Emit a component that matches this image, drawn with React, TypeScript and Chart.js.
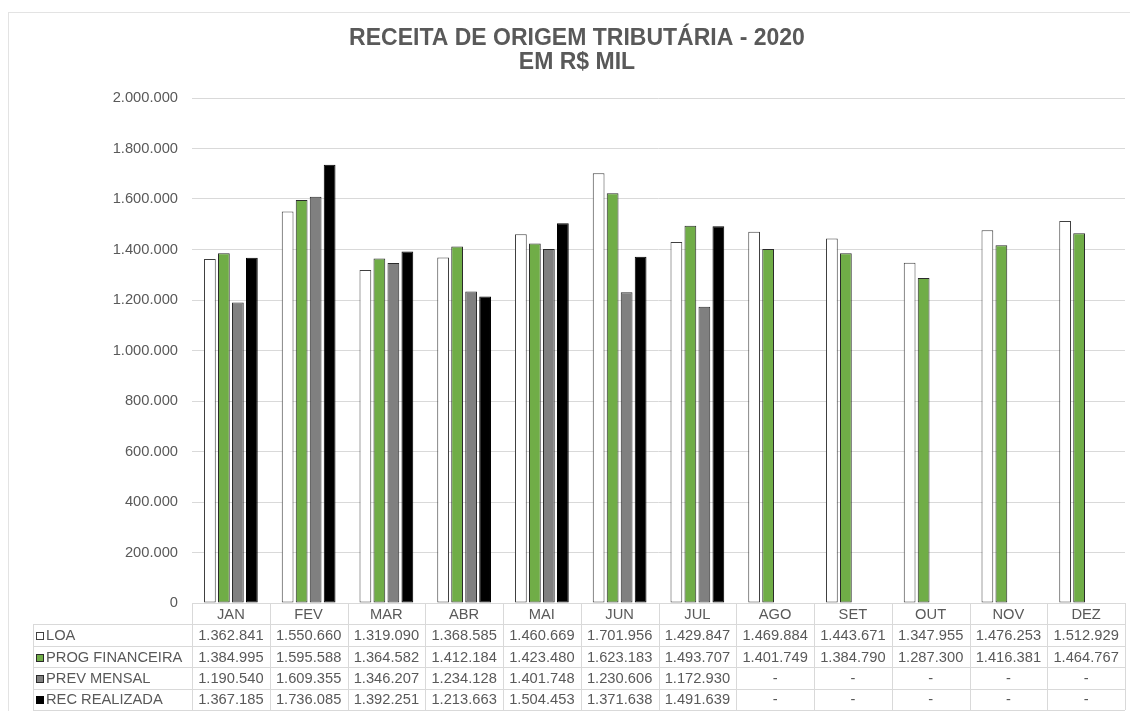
import React, { useEffect, useRef } from "react";
import { Chart, registerables } from "chart.js";

Chart.register(...registerables);

const months = ["JAN", "FEV", "MAR", "ABR", "MAI", "JUN", "JUL", "AGO", "SET", "OUT", "NOV", "DEZ"];
const loa = [1362841, 1550660, 1319090, 1368585, 1460669, 1701956, 1429847, 1469884, 1443671, 1347955, 1476253, 1512929];
const progFinanceira = [1384995, 1595588, 1364582, 1412184, 1423480, 1623183, 1493707, 1401749, 1384790, 1287300, 1416381, 1464767];
const prevMensal = [1190540, 1609355, 1346207, 1234128, 1401748, 1230606, 1172930, null, null, null, null, null];
const recRealizada = [1367185, 1736085, 1392251, 1213663, 1504453, 1371638, 1491639, null, null, null, null, null];
const titleLines = ["RECEITA DE ORIGEM TRIBUTÁRIA - 2020", "EM R$ MIL"];

const seriesNames = ["LOA", "PROG FINANCEIRA", "PREV MENSAL", "REC REALIZADA"];
const seriesColors = ["#ffffff", "#70ad47", "#808080", "#000000"];
const seriesBorders = ["#404040", "#2b2b2b", "#2b2b2b", "#000000"];

const FONT = "'Liberation Sans', Arial, sans-serif";
const TEXT = "#595959";
const LINE = "#d9d9d9";

function fmt(v: number | null): string {
  if (v === null || v === undefined) return "-";
  return String(Math.round(v)).replace(/\B(?=(\d{3})+(?!\d))/g, ".");
}

const framePlugin = {
  id: "frame",
  beforeDraw(chart: any) {
    const ctx = chart.ctx;
    ctx.save();
    ctx.fillStyle = "#ffffff";
    ctx.fillRect(0, 0, chart.width, chart.height);
    ctx.strokeStyle = "#e3e3e3";
    ctx.lineWidth = 1;
    ctx.strokeRect(8.5, 12.5, chart.width + 10, chart.height + 10);
    ctx.fillStyle = TEXT;
    ctx.font = `bold 23px ${FONT}`;
    ctx.textAlign = "center";
    ctx.textBaseline = "middle";
    ctx.fillText(titleLines[0], 577, 39);
    ctx.fillText(titleLines[1], 577, 63);
    ctx.restore();
  },
  afterDraw(chart: any) {
    const ctx = chart.ctx;
    const area = chart.chartArea;
    const xs = chart.scales.x;
    const n = months.length;
    const cw = (area.right - area.left) / n;
    const top = area.bottom;
    const rowH = 21.4;
    const leftX = 33;
    const allSeries = [loa, progFinanceira, prevMensal, recRealizada];
    ctx.save();
    ctx.strokeStyle = LINE;
    ctx.lineWidth = 1;
    const bottom = top + rowH * 5;
    ctx.beginPath();
    ctx.moveTo(area.left, Math.round(top) + 0.5);
    ctx.lineTo(area.right, Math.round(top) + 0.5);
    for (let r = 1; r <= 5; r++) {
      const y = Math.round(top + rowH * r) + 0.5;
      ctx.moveTo(leftX, y);
      ctx.lineTo(area.right, y);
    }
    for (let i = 0; i <= n; i++) {
      const x = Math.round(area.left + cw * i) + 0.5;
      ctx.moveTo(x, top);
      ctx.lineTo(x, bottom);
    }
    ctx.moveTo(leftX + 0.5, top + rowH);
    ctx.lineTo(leftX + 0.5, bottom);
    ctx.stroke();

    ctx.fillStyle = TEXT;
    ctx.font = `14.7px ${FONT}`;
    ctx.textBaseline = "middle";
    ctx.textAlign = "center";
    for (let i = 0; i < n; i++) {
      const cx = xs.getPixelForValue(i);
      ctx.fillText(months[i], cx, top + rowH * 0.5 + 1);
      for (let s = 0; s < allSeries.length; s++) {
        ctx.fillText(fmt(allSeries[s][i] as any), cx, top + rowH * (s + 1.5) + 1);
      }
    }
    ctx.textAlign = "left";
    for (let s = 0; s < seriesNames.length; s++) {
      const cy = top + rowH * (s + 1.5) + 1;
      ctx.fillStyle = seriesColors[s];
      ctx.fillRect(36, Math.round(cy) - 4, 8, 8);
      ctx.strokeStyle = seriesBorders[s];
      ctx.strokeRect(36.5, Math.round(cy) - 3.5, 7, 7);
      ctx.fillStyle = TEXT;
      ctx.fillText(seriesNames[s], 46, cy);
    }
    ctx.restore();
  },
};

export default function App() {
  const ref = useRef<HTMLCanvasElement | null>(null);
  useEffect(() => {
    if (!ref.current) return;
    const allSeries = [loa, progFinanceira, prevMensal, recRealizada];
    const chart = new Chart(ref.current, {
      type: "bar",
      data: {
        labels: months,
        datasets: allSeries.map((d, i) => ({
          label: seriesNames[i],
          data: d as any,
          backgroundColor: seriesColors[i],
          borderColor: seriesBorders[i],
          borderWidth: 1,
          borderSkipped: false,
          categoryPercentage: 0.72,
          barPercentage: 0.84,
        })),
      },
      options: {
        responsive: false,
        maintainAspectRatio: false,
        animation: false,
        layout: { padding: { left: 0, right: 5, top: 98, bottom: 108 } },
        plugins: {
          legend: { display: false },
          title: { display: false },
          tooltip: { enabled: false },
        },
        scales: {
          x: {
            display: false,
            grid: { display: false },
          },
          y: {
            min: 0,
            max: 2000000,
            ticks: {
              stepSize: 200000,
              padding: 14,
              color: TEXT,
              font: { family: FONT, size: 14.7 },
              callback: (v: any) => fmt(Number(v)),
            },
            grid: { color: LINE, drawTicks: false },
            border: { display: false },
            afterFit: (scale: any) => {
              scale.width = 192;
            },
          },
        },
      },
      plugins: [framePlugin],
    });
    return () => chart.destroy();
  }, []);
  return (
    <div style={{ position: "absolute", left: 0, top: 0, width: 1130, height: 711, background: "#fff" }}>
      <canvas ref={ref} width={1130} height={711} style={{ width: 1130, height: 711, display: "block" }} />
    </div>
  );
}
